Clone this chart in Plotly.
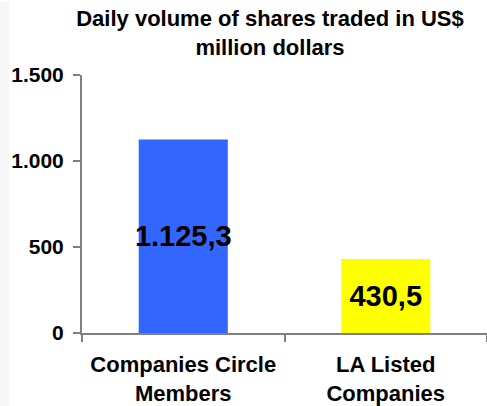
import plotly.graph_objects as go

categories = ["Companies Circle<br>Members", "LA Listed<br>Companies"]
values = [1125.3, 430.5]
value_labels = ["1.125,3", "430,5"]
bar_colors = ["#3366FF", "#FFFF00"]
y_ticks = [0, 500, 1000, 1500]
y_tick_labels = ["0", "500", "1.000", "1.500"]

font_family = "Liberation Sans, Arial, sans-serif"

fig = go.Figure()
fig.add_trace(go.Bar(
    x=categories,
    y=values,
    marker=dict(color=bar_colors, line=dict(width=0)),
    text=value_labels,
    textposition="inside",
    insidetextanchor="middle",
    constraintext="none",
    textangle=0,
    textfont=dict(family=font_family, size=29, color="black", weight="bold"),
    width=0.44,
))

# light strip on the left edge
fig.add_shape(type="rect", xref="paper", yref="paper",
              x0=-82 / 405, x1=-73 / 405, y0=-73 / 258, y1=331 / 258,
              fillcolor="#F7F7F7", line=dict(width=0), layer="below")

fig.update_layout(
    width=487, height=406,
    margin=dict(l=82, r=0, t=75, b=73),
    paper_bgcolor="white",
    plot_bgcolor="white",
    showlegend=False,
    title=dict(
        text="Daily volume of shares traded in US$<br>million dollars",
        x=(270 - 82) / 405, xref="paper", xanchor="center",
        y=1 - 26 / 406, yref="container", yanchor="middle",
        font=dict(family=font_family, size=22, color="black", weight="bold"),
    ),
    xaxis=dict(
        showline=True, linecolor="#808080", linewidth=2,
        ticks="outside", tickson="boundaries", ticklen=7, tickcolor="#808080",
        tickwidth=2, ticklabelstandoff=11,
        showgrid=False,
        tickfont=dict(family=font_family, size=22, color="black", weight="bold"),
    ),
    yaxis=dict(
        range=[0, 1500],
        tickvals=y_ticks, ticktext=y_tick_labels,
        showline=True, linecolor="#808080", linewidth=2,
        ticks="outside", ticklen=7, tickcolor="#808080", tickwidth=2,
        ticklabelstandoff=5,
        showgrid=False, zeroline=False,
        tickfont=dict(family=font_family, size=21, color="black", weight="bold"),
    ),
)

fig.write_html("out.html", config={"displayModeBar": False},
               post_script="document.body.style.margin='0';")
